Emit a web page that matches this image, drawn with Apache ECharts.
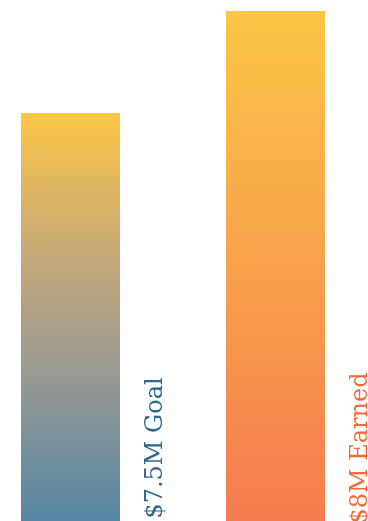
<!DOCTYPE html>
<html><head><meta charset="utf-8">
<script src="https://cdn.jsdelivr.net/npm/echarts@6/dist/echarts.min.js"></script>
<style>html,body{margin:0;padding:0;background:#fff}#c{width:368px;height:521px}</style>
</head><body><div id="c"></div>
<script>
const categories = ['Goal', 'Earned'];
const values = [7.5, 8];
const labels = ['$7.5M Goal', '$8M Earned'];

const gradients = [
  [[0, '#FCC646'], [0.33, '#C8AA76'], [0.58, '#A39D8E'], [1, '#5786A4']],
  [[0, '#FCC646'], [1, '#F47C50']]
];
const labelColors = ['#2F6690', '#F26A37'];

const chart = echarts.init(document.getElementById('c'), null, {renderer: 'canvas'});
chart.setOption({
  animation: false,
  grid: {left: 70.5, right: 92.5, top: 0, bottom: 0},
  xAxis: {type: 'category', data: categories, show: false, boundaryGap: false},
  yAxis: {type: 'value', min: 5.5, max: 8.054, show: false},
  series: [{
    type: 'bar',
    barWidth: 99,
    data: values.map((v, i) => ({
      value: v,
      itemStyle: {
        color: new echarts.graphic.LinearGradient(0, 0, 0, 1,
          gradients[i].map(s => ({offset: s[0], color: s[1]})))
      },
      label: {
        show: true,
        formatter: labels[i],
        position: 'insideBottom',
        distance: 73,
        rotate: 90,
        align: 'center',
        verticalAlign: 'middle',
        offset: [0, 85],
        color: labelColors[i],
        fontFamily: 'DejaVu Serif',
        fontSize: 24
      }
    }))
  }]
});
</script></body></html>
